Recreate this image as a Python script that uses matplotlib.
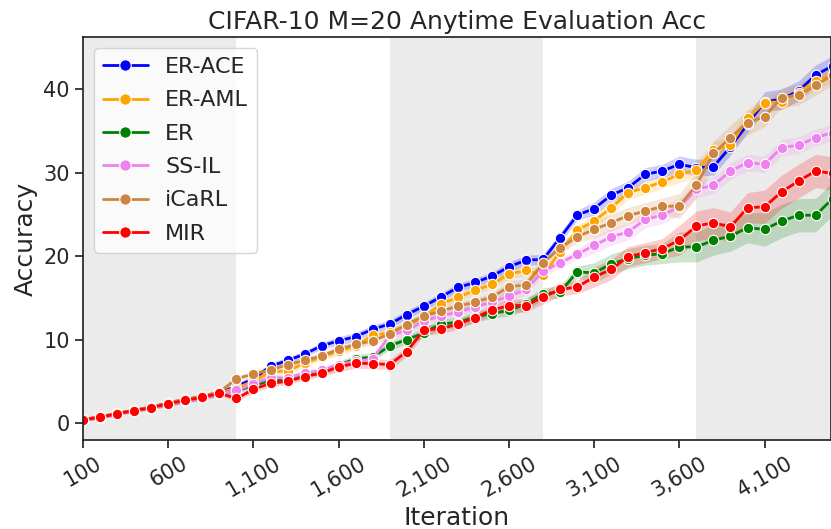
import numpy as np
import matplotlib
matplotlib.use("Agg")
import matplotlib.pyplot as plt
import matplotlib.ticker as mticker
import seaborn as sns

sns.set_theme(style="ticks")
plt.rcParams['font.family'] = ['DejaVu Sans']

# iterations (one eval every 100 iterations)
iterations = np.arange(100, 4600, 100)

# mean accuracy per method
er_ace = [0.42, 0.72, 1.15, 1.52, 1.90, 2.38, 2.78, 3.15, 3.62,
          4.40, 5.30, 6.80, 7.50, 8.25, 9.26, 9.84, 10.36, 11.24, 11.86,
          13.0, 14.0, 15.1, 16.24, 16.84, 17.6, 18.72, 19.52, 19.6,
          22.2, 24.9, 25.7, 27.3, 28.2, 29.8, 30.2, 31.0, 30.6, 30.7,
          33.1, 35.8, 38.5, 38.8, 39.8, 41.7, 42.8]
er_aml = [0.42, 0.70, 1.14, 1.50, 1.88, 2.36, 2.76, 3.14, 3.62,
          4.20, 5.00, 6.10, 6.25, 7.15, 7.95, 8.60, 9.25, 10.5, 10.85,
          11.7, 12.65, 14.27, 15.04, 15.92, 16.6, 17.84, 18.28, 17.7,
          20.5, 23.1, 24.2, 25.8, 27.6, 28.2, 28.9, 29.8, 30.3, 32.7,
          33.3, 36.5, 38.4, 38.5, 39.6, 41.0, 41.8]
er = [0.40, 0.68, 1.10, 1.47, 1.83, 2.30, 2.70, 3.06, 3.55,
      3.85, 4.50, 5.10, 5.25, 5.85, 6.10, 6.90, 7.70, 7.90, 9.24,
      10.0, 10.8, 11.88, 12.04, 12.72, 13.12, 13.52, 14.24, 15.5,
      15.7, 18.1, 18.0, 19.05, 19.7, 20.1, 20.3, 21.1, 21.1, 21.9,
      22.4, 23.4, 23.2, 24.2, 24.9, 24.9, 26.9]
ss_il = [0.38, 0.64, 1.06, 1.42, 1.78, 2.24, 2.64, 3.00, 3.48,
         3.90, 4.70, 5.44, 5.40, 5.95, 6.30, 7.00, 7.40, 7.68, 10.5,
         11.1, 12.2, 12.84, 13.28, 13.92, 14.48, 15.2, 16.0, 18.2,
         19.2, 20.2, 21.3, 22.3, 22.9, 24.4, 24.9, 25.9, 28.0, 28.5,
         30.2, 31.2, 31.0, 33.0, 33.3, 34.2, 34.8]
icarl = [0.44, 0.74, 1.18, 1.55, 1.94, 2.42, 2.84, 3.22, 3.70,
         5.30, 5.88, 6.36, 6.98, 7.50, 8.04, 8.84, 9.42, 9.84, 10.7,
         11.8, 12.84, 13.4, 14.0, 14.48, 15.1, 16.32, 16.56, 19.15,
         21.0, 22.3, 23.2, 24.0, 24.85, 25.4, 25.95, 26.0, 28.5, 32.3,
         34.2, 36.0, 36.7, 39.0, 39.3, 40.5, 41.7]
mir = [0.41, 0.68, 1.12, 1.48, 1.84, 2.32, 2.72, 3.08, 3.56,
       2.94, 4.04, 4.76, 5.00, 5.56, 5.98, 6.74, 7.16, 7.12, 7.00,
       8.56, 11.12, 11.32, 11.84, 12.64, 13.52, 14.08, 14.08, 15.08,
       16.0, 16.3, 17.5, 18.4, 19.95, 20.4, 20.9, 21.9, 23.6, 24.0,
       23.5, 25.8, 25.9, 27.7, 29.0, 30.2, 29.9]

# approx. half-width of the shaded band, one value per 500 iterations
ci_ace = [0.2, 0.3, 0.4, 0.5, 0.5, 0.6, 0.8, 1.0, 1.2]
ci_aml = [0.2, 0.3, 0.4, 0.5, 0.5, 0.6, 0.8, 1.0, 1.0]
ci_er = [0.2, 0.3, 0.4, 0.5, 0.6, 0.7, 1.2, 1.8, 2.0]
ci_ssil = [0.2, 0.3, 0.4, 0.5, 0.5, 0.6, 1.0, 1.0, 1.0]
ci_icarl = [0.2, 0.3, 0.4, 0.5, 0.5, 0.7, 1.0, 1.5, 1.2]
ci_mir = [0.2, 0.3, 0.4, 0.6, 0.6, 0.8, 1.2, 1.8, 2.0]

names = ['ER-ACE', 'ER-AML', 'ER', 'SS-IL', 'iCaRL', 'MIR']
means = [er_ace, er_aml, er, ss_il, icarl, mir]
cis = [ci_ace, ci_aml, ci_er, ci_ssil, ci_icarl, ci_mir]
colors = ['blue', 'orange', 'green', 'violet', 'peru', 'red']

# task boundaries that get a grey background
task_spans = [(0, 1000), (1900, 2800), (3700, 4600)]

fig = plt.figure(figsize=(8.31, 5.29), dpi=100)
ax = fig.add_axes([0.1, 0.168, 0.9, 0.762])

for lo, hi in task_spans:
    ax.axvspan(lo, hi, color='#ebebeb', zorder=0, lw=0)

for name, m, ci, c in zip(names, means, cis, colors):
    m = np.array(m)
    half = np.repeat(ci, 5)
    ax.fill_between(iterations, m - half, m + half, color=c, alpha=0.2, lw=0, zorder=1)
    ax.plot(iterations, m, color=c, lw=2, marker='o', markersize=7.5,
            markeredgecolor='white', markeredgewidth=0.8, label=name, zorder=2)

ax.set_xlim(100, 4490)
ax.set_ylim(-2.05, 46.25)
ax.set_xticks(np.arange(100, 4200, 500))
ax.xaxis.set_major_formatter(mticker.StrMethodFormatter('{x:,.0f}'))
ax.set_yticks([0, 10, 20, 30, 40])
plt.setp(ax.get_xticklabels(), rotation=30, ha='center')
ax.tick_params(labelsize=15)

ax.set_title('CIFAR-10 M=20 Anytime Evaluation Acc', fontsize=18)
ax.set_xlabel('Iteration', fontsize=18)
ax.set_ylabel('Accuracy', fontsize=18)
ax.legend(loc='upper left', fontsize=16, handlelength=2.0, markerscale=1.1,
          labelspacing=0.6)

fig.savefig('out.png', dpi=100)
